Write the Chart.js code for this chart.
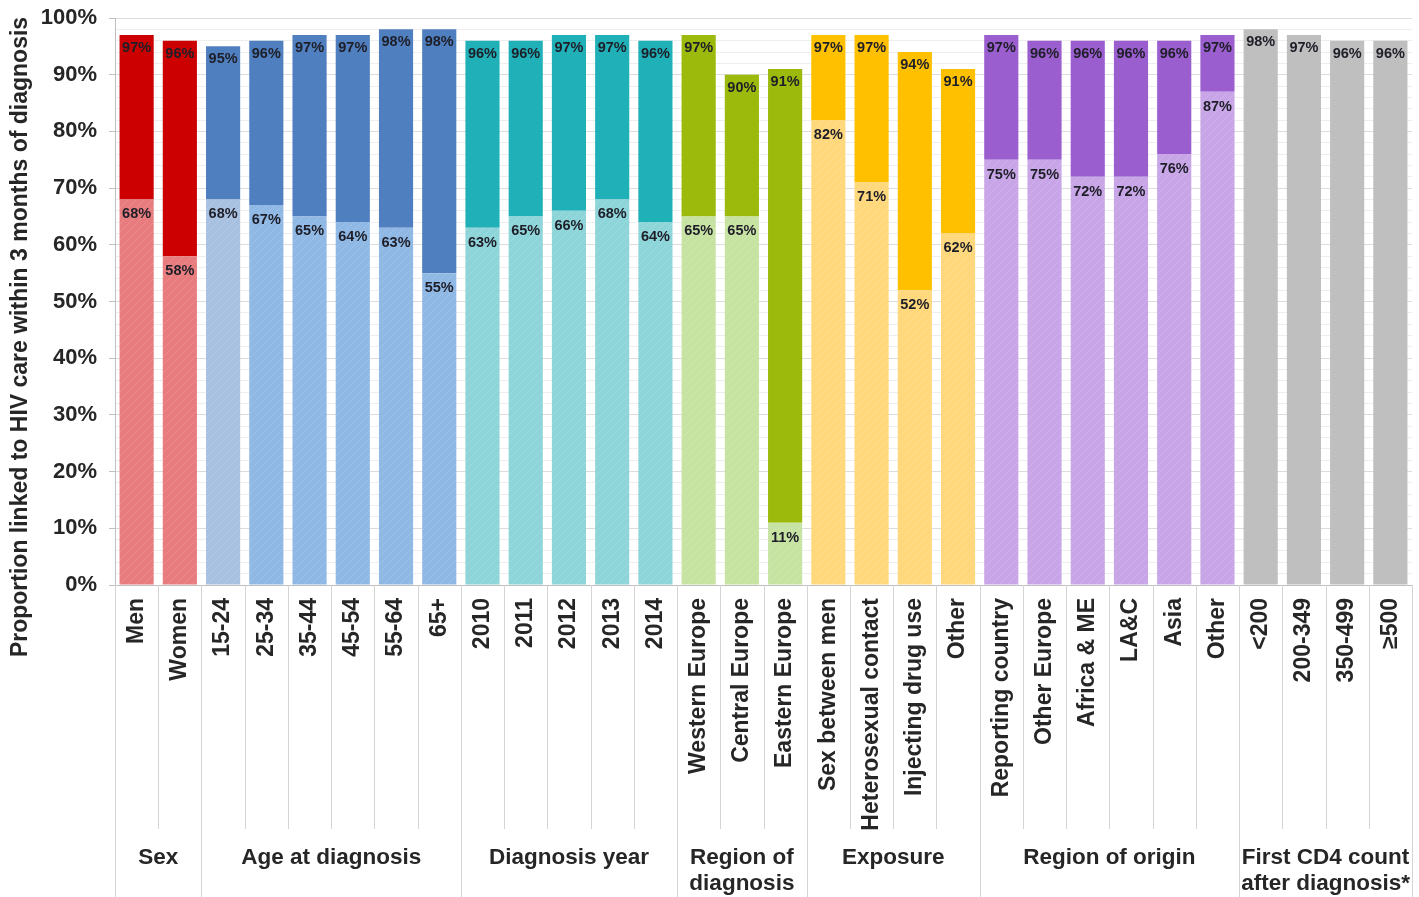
<!DOCTYPE html>
<html>
<head>
<meta charset="utf-8">
<title>Linkage to HIV care</title>
<script src="https://cdn.jsdelivr.net/npm/chart.js@4/dist/chart.umd.min.js"></script>
<style>
  html, body { margin: 0; padding: 0; background: #ffffff; }
  #wrap { width: 1419px; height: 897px; position: relative; }
</style>
</head>
<body>
<div id="wrap"><canvas id="chart"></canvas></div>
<script>
// ---- data ----
const categories = [
  'Men', 'Women',
  '15-24', '25-34', '35-44', '45-54', '55-64', '65+',
  '2010', '2011', '2012', '2013', '2014',
  'Western Europe', 'Central Europe', 'Eastern Europe',
  'Sex between men', 'Heterosexual contact', 'Injecting drug use', 'Other',
  'Reporting country', 'Other Europe', 'Africa & ME', 'LA&C', 'Asia', 'Other',
  '<200', '200-349', '350-499', '≥500'
];
const groupNames = [
  ['Sex'], ['Age at diagnosis'], ['Diagnosis year'], ['Region of', 'diagnosis'],
  ['Exposure'], ['Region of origin'], ['First CD4 count', 'after diagnosis*']
];
const groupSizes = [2, 6, 5, 3, 4, 6, 4];

// lower segment (light, hatched) and overall height (dark top segment)
const lowerValues = [
  68, 58,
  68, 67, 65, 64, 63, 55,
  63, 65, 66, 68, 64,
  65, 65, 11,
  82, 71, 52, 62,
  75, 75, 72, 72, 76, 87,
  null, null, null, null
];
const upperValues = [
  97, 96,
  95, 96, 97, 97, 98, 98,
  96, 96, 97, 97, 96,
  97, 90, 91,
  97, 97, 94, 91,
  97, 96, 96, 96, 96, 97,
  98, 97, 96, 96
];
const yTickValues = [0, 10, 20, 30, 40, 50, 60, 70, 80, 90, 100];

// ---- colours ----
const groupDark  = ['#CC0000', '#4F7FBE', '#20B0B7', '#9BBA0B', '#FFC000', '#9A5ECF', '#BFBFBF'];
const groupLight = ['#E87B7D', '#8FB8E5', '#8ED5D9', '#C7E3A2', '#FFD87B', '#C8A5E7', '#BFBFBF'];
const FONT = "'Liberation Sans', Arial, Helvetica, sans-serif";

const groupOfIndex = [];
groupSizes.forEach((n, g) => { for (let k = 0; k < n; k++) groupOfIndex.push(g); });

function hatch(base) {
  const c = document.createElement('canvas');
  c.width = 8; c.height = 8;
  const x = c.getContext('2d');
  x.fillStyle = base;
  x.fillRect(0, 0, 8, 8);
  x.strokeStyle = 'rgba(255,255,255,0.12)';
  x.lineWidth = 1;
  x.beginPath();
  x.moveTo(0, 8); x.lineTo(8, 0);
  x.moveTo(-4, 4); x.lineTo(4, -4);
  x.moveTo(4, 12); x.lineTo(12, 4);
  x.stroke();
  return x.createPattern(c, 'repeat');
}

const lightFill = categories.map((c, i) => {
  if (i === 2) return hatch('#A8C1E1');        // youngest age band is paler
  return hatch(groupLight[groupOfIndex[i]]);
});
const darkFill = categories.map((c, i) => groupDark[groupOfIndex[i]]);

// ---- value labels, category separators, group captions, y title ----
const decorations = {
  id: 'decorations',
  afterDatasetsDraw(chart) {
    const ctx = chart.ctx;
    const y = chart.scales.y;
    const x = chart.scales.x;
    ctx.save();
    ctx.font = 'bold 14.5px ' + FONT;
    ctx.fillStyle = '#1e1e28';
    ctx.textAlign = 'center';
    ctx.textBaseline = 'middle';
    categories.forEach((c, i) => {
      const cx = x.getPixelForValue(i);
      if (upperValues[i] != null) {
        ctx.fillText(upperValues[i] + '%', cx, y.getPixelForValue(upperValues[i]) + 13);
      }
      if (lowerValues[i] != null) {
        ctx.fillText(lowerValues[i] + '%', cx, y.getPixelForValue(lowerValues[i]) + 15);
      }
    });
    ctx.restore();
  },
  afterDraw(chart) {
    const ctx = chart.ctx;
    const x = chart.scales.x;
    const area = chart.chartArea;
    const H = chart.height;
    ctx.save();
    ctx.strokeStyle = '#D4D4D4';
    ctx.lineWidth = 1;
    const boundary = i => {
      if (i === 0) return area.left;
      if (i === categories.length) return area.right;
      return (x.getPixelForValue(i - 1) + x.getPixelForValue(i)) / 2;
    };
    const groupStarts = [0];
    groupSizes.forEach((n, g) => groupStarts.push(groupStarts[g] + n));
    for (let i = 0; i <= categories.length; i++) {
      const isGroupEdge = groupStarts.includes(i);
      const px = Math.round(boundary(i)) + 0.5;
      ctx.beginPath();
      ctx.moveTo(px, area.bottom);
      ctx.lineTo(px, isGroupEdge ? H : area.bottom + 244);
      ctx.stroke();
    }
    // group captions
    ctx.font = 'bold 22.5px ' + FONT;
    ctx.fillStyle = '#262626';
    ctx.textAlign = 'center';
    ctx.textBaseline = 'middle';
    groupNames.forEach((lines, g) => {
      const cx = (boundary(groupStarts[g]) + boundary(groupStarts[g + 1])) / 2;
      lines.forEach((t, k) => ctx.fillText(t, cx, 858 + k * 26));
    });
    // y axis title
    ctx.font = 'bold 23px ' + FONT;
    ctx.translate(21, 337);
    ctx.rotate(-Math.PI / 2);
    ctx.fillText('Proportion linked to HIV care within 3 months of diagnosis', 0, 0);
    ctx.restore();
  }
};

new Chart(document.getElementById('chart'), {
  type: 'bar',
  data: {
    labels: categories,
    datasets: [
      {
        label: 'lower',
        data: lowerValues.map(v => v == null ? null : [0, v]),
        backgroundColor: lightFill,
        grouped: false,
        categoryPercentage: 1,
        barPercentage: 0.79
      },
      {
        label: 'upper',
        data: upperValues.map((v, i) => [lowerValues[i] == null ? 0 : lowerValues[i], v]),
        backgroundColor: darkFill,
        grouped: false,
        categoryPercentage: 1,
        barPercentage: 0.79
      }
    ]
  },
  options: {
    responsive: true,
    maintainAspectRatio: false,
    animation: false,
    layout: { padding: { top: 18, right: 7, left: 0, bottom: 0 } },
    plugins: { legend: { display: false }, tooltip: { enabled: false }, title: { display: false } },
    scales: {
      x: {
        offset: true,
        grid: { display: true, drawOnChartArea: false, drawTicks: false, color: 'rgba(0,0,0,0)' },
        border: { display: true, color: '#BFBFBF' },
        ticks: {
          autoSkip: false, minRotation: 90, maxRotation: 90, padding: 13,
          color: '#262626', font: { family: FONT, size: 23, weight: 'bold' }
        },
        afterFit(s) { s.height = 312; s.paddingLeft = 0; s.paddingRight = 0; }
      },
      y: {
        min: 0, max: 100,
        afterBuildTicks(s) {
          const t = [];
          for (let v = 0; v <= 100; v += 2) t.push({ value: v });
          s.ticks = t;
        },
        grid: {
          color: c => yTickValues.includes(c.tick.value) ? '#DCDCDC' : '#EEEEEE',
          tickColor: c => yTickValues.includes(c.tick.value) ? '#BFBFBF' : 'rgba(0,0,0,0)',
          tickLength: 6
        },
        border: { display: true, color: '#BFBFBF' },
        ticks: {
          autoSkip: false, padding: 12, color: '#262626',
          font: { family: FONT, size: 22, weight: 'bold' },
          callback: v => yTickValues.includes(v) ? v + '%' : ''
        },
        afterFit(s) { s.width = 115; s.paddingTop = 0; s.paddingBottom = 0; }
      }
    }
  },
  plugins: [decorations]
});
</script>
</body>
</html>
